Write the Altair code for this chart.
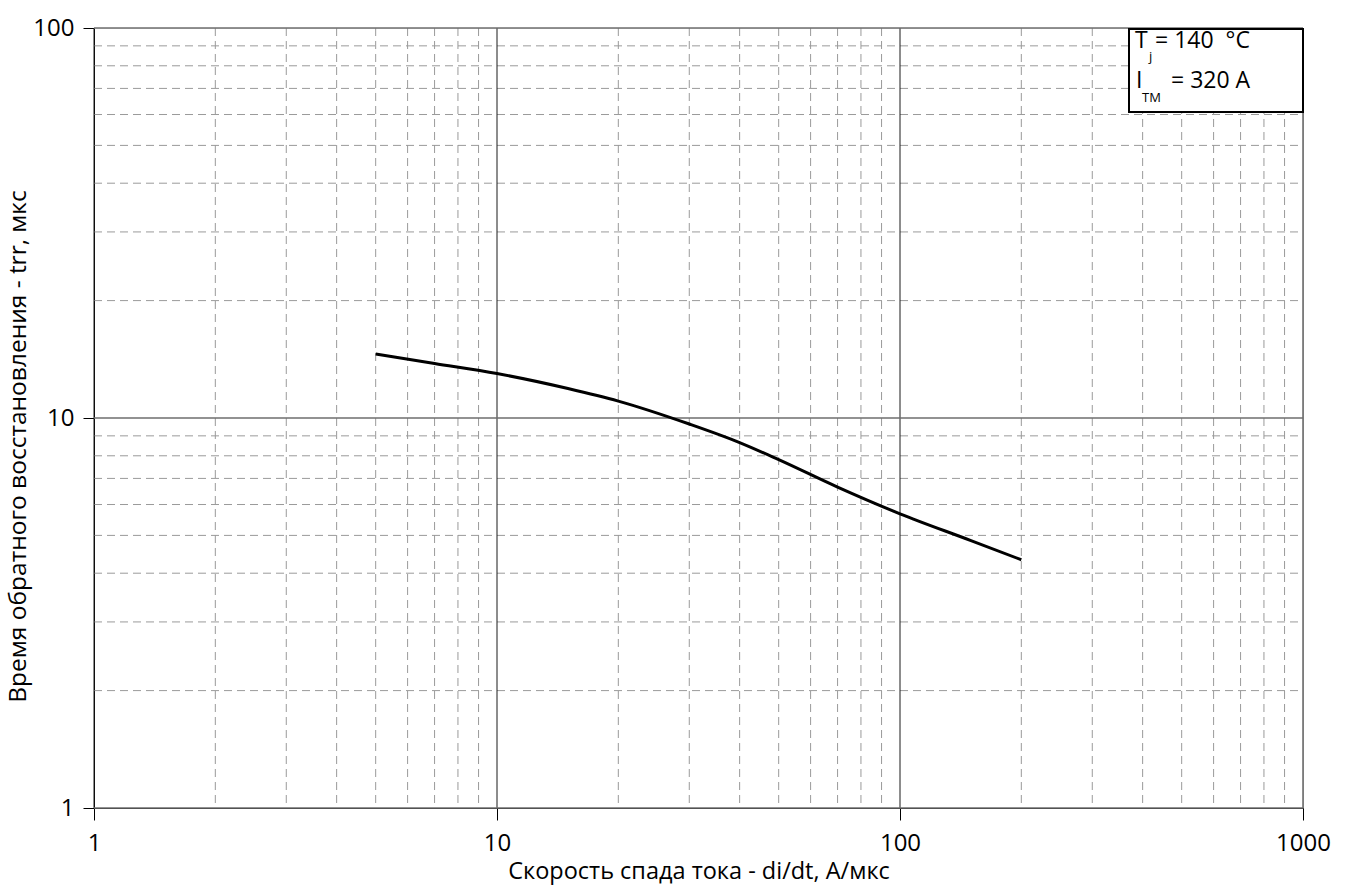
import altair as alt
import pandas as pd

# Reverse recovery time vs. current fall rate
di_dt = [5, 7, 10, 15, 20, 30, 40, 50, 70, 100, 150, 200]
trr = [14.6, 13.8, 13.0, 11.9, 11.05, 9.65, 8.65, 7.82, 6.65, 5.68, 4.85, 4.33]

x_major = [1, 10, 100, 1000]
y_major = [1, 10, 100]
x_minor = [2, 3, 4, 5, 6, 7, 8, 9, 20, 30, 40, 50, 60, 70, 80, 90, 200, 300, 400, 500, 600, 700, 800, 900]
y_minor = [2, 3, 4, 5, 6, 7, 8, 9, 20, 30, 40, 50, 60, 70, 80, 90]

W, H = 1209, 780
FONT = "Open Sans"

xs = alt.Scale(type="log", domain=[1, 1000], nice=False)
ys = alt.Scale(type="log", domain=[1, 100], nice=False)

curve_df = pd.DataFrame({"x": di_dt, "y": trr})

# grid: dashed minor lines, solid decade lines
vminor = alt.Chart(pd.DataFrame({"x": x_minor})).mark_rule(
    color="#9a9a9a", strokeWidth=1, strokeDash=[8, 5]
).encode(x=alt.X("x:Q", scale=xs), y=alt.value(0), y2=alt.value(H))

hminor = alt.Chart(pd.DataFrame({"y": y_minor})).mark_rule(
    color="#9a9a9a", strokeWidth=1, strokeDash=[8, 5]
).encode(y=alt.Y("y:Q", scale=ys), x=alt.value(0), x2=alt.value(W))

vmajor = alt.Chart(pd.DataFrame({"x": x_major})).mark_rule(
    color="#1a1a1a", strokeWidth=1
).encode(x=alt.X("x:Q", scale=xs), y=alt.value(0), y2=alt.value(H))

hmajor = alt.Chart(pd.DataFrame({"y": y_major})).mark_rule(
    color="#6e6e6e", strokeWidth=1.3
).encode(y=alt.Y("y:Q", scale=ys), x=alt.value(0), x2=alt.value(W))

curve = alt.Chart(curve_df).mark_line(
    color="black", strokeWidth=3, interpolate="monotone"
).encode(
    x=alt.X(
        "x:Q", scale=xs,
        axis=alt.Axis(
            title="Скорость спада тока - di/dt, А/мкс",
            values=x_major, format="d", grid=False, labelFlush=False,
            tickSize=12, tickColor="black", domainColor="black",
            labelFont=FONT, labelFontSize=24, labelColor="black", labelPadding=11,
            titleFont=FONT, titleFontSize=23.5, titleFontWeight="normal",
            titleColor="black", titleBaseline="alphabetic",
            titleX=W / 2, titleY=70,
        ),
    ),
    y=alt.Y(
        "y:Q", scale=ys,
        axis=alt.Axis(
            title="Время обратного восстановления - trr, мкс",
            values=y_major, format="d", grid=False, labelFlush=False,
            tickSize=11, tickColor="black", domainColor="black",
            labelFont=FONT, labelFontSize=24, labelColor="black", labelPadding=9,
            titleFont=FONT, titleFontSize=24.5, titleFontWeight="normal",
            titleColor="black", titleBaseline="middle",
            titleX=-76, titleY=H / 2 + 28,
        ),
    ),
)

# conditions box
box = alt.Chart(pd.DataFrame({"a": [0]})).mark_rect(
    fill="white", stroke="black", strokeWidth=2
).encode(x=alt.value(1035), x2=alt.value(W), y=alt.value(1), y2=alt.value(84))

main_lines = pd.DataFrame({
    "t": ["T", "= 140\u00a0\u00a0°C", "I", "= 320 A"],
    "px": [1041, 1061, 1042, 1077],
    "py": [13, 13, 53, 53],
})
sub_lines = pd.DataFrame({
    "t": ["j", "TM"],
    "px": [1055, 1048],
    "py": [29, 70],
})

main_text = alt.Chart(main_lines).mark_text(
    font=FONT, fontSize=23, align="left", baseline="middle", color="black"
).encode(x=alt.X("px:Q", scale=None), y=alt.Y("py:Q", scale=None), text="t:N")

sub_text = alt.Chart(sub_lines).mark_text(
    font=FONT, fontSize=13, align="left", baseline="middle", color="black"
).encode(x=alt.X("px:Q", scale=None), y=alt.Y("py:Q", scale=None), text="t:N")

chart = alt.layer(
    vminor, hminor, vmajor, hmajor, curve, box, main_text, sub_text
).resolve_scale(x="shared", y="shared").properties(
    width=W, height=H,
    autosize=alt.AutoSizeParams(type="none"),
    padding={"left": 94, "top": 28, "right": 46, "bottom": 84},
).configure_view(stroke=None).configure(background="white")

chart.save("out.html", embed_options={"renderer": "svg", "actions": False})
